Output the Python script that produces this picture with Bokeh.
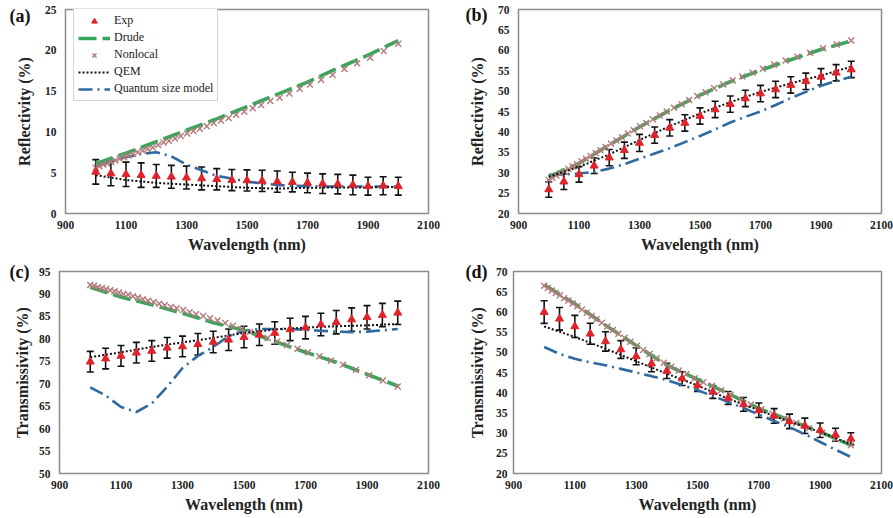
from bokeh.plotting import figure
from bokeh.models import (Range1d, FixedTicker, Whisker, TeeHead, ColumnDataSource,
                          Legend, LegendItem, LinearAxis)
from bokeh.layouts import column, row
from bokeh.embed import file_html
from bokeh.resources import INLINE

# ---------------- data ----------------
WL_EXP = [1000, 1050, 1100, 1150, 1200, 1250, 1300, 1350, 1400, 1450, 1500,
          1550, 1600, 1650, 1700, 1750, 1800, 1850, 1900, 1950, 2000]
WL_MODEL = [1000, 1100, 1200, 1300, 1400, 1500, 1600, 1700, 1800, 1900, 2000]
WL_NL = [1000, 1012, 1025, 1038, 1051, 1065, 1079, 1093, 1108, 1123, 1139, 1155,
         1171, 1188, 1206, 1224, 1242, 1262, 1281, 1302, 1323, 1344, 1367, 1390,
         1414, 1439, 1464, 1491, 1519, 1547, 1577, 1608, 1640, 1674, 1708, 1745,
         1783, 1822, 1864, 1907, 1952, 2000]
X_TICKS = [900, 1100, 1300, 1500, 1700, 1900, 2100]

# (a) reflectivity, panel a
A_EXP = [5.1, 4.9, 4.8, 4.7, 4.6, 4.5, 4.4, 4.3, 4.2, 4.1, 4.05, 4.0, 3.9, 3.85,
         3.75, 3.65, 3.6, 3.5, 3.35, 3.4, 3.35]
A_ERR = [1.5, 1.5, 1.5, 1.5, 1.4, 1.4, 1.4, 1.4, 1.3, 1.3, 1.3, 1.3, 1.3, 1.2,
         1.2, 1.2, 1.2, 1.2, 1.1, 1.1, 1.1]
A_DRUDE = [6.1, 7.4, 8.8, 10.2, 11.6, 13.1, 14.6, 16.1, 17.8, 19.4, 21.2]
A_NL = [5.6, 5.8, 6.0, 6.1, 6.3, 6.5, 6.7, 6.9, 7.1, 7.3, 7.5, 7.7, 7.9, 8.1,
        8.4, 8.7, 8.9, 9.2, 9.5, 9.8, 10.1, 10.4, 10.7, 11.1, 11.4, 11.7, 12.1,
        12.5, 12.9, 13.3, 13.8, 14.2, 14.7, 15.3, 15.8, 16.4, 17.0, 17.7, 18.4,
        19.1, 19.9, 20.8]
A_QEM = [4.7, 4.1, 3.75, 3.55, 3.35, 3.15, 3.05, 3.15, 3.2, 3.2, 3.25]
A_QSM = [5.8, 6.4, 6.9, 7.3, 7.5, 7.0, 6.0, 5.3, 4.6, 4.3, 3.9, 3.7, 3.5, 3.4,
         3.35, 3.3, 3.3, 3.3, 3.3, 3.3, 3.3]
A_YTICKS = [0, 5, 10, 15, 20, 25]

# (b) reflectivity, panel b
B_EXP = [25.9, 27.8, 29.6, 31.7, 33.7, 35.5, 37.3, 39.2, 41.0, 42.2, 43.9, 45.5,
         46.8, 48.2, 49.4, 50.4, 51.5, 52.4, 53.5, 54.5, 55.3]
B_ERR = [1.9, 1.9, 1.9, 1.9, 2.0, 2.0, 2.1, 2.0, 2.0, 2.0, 2.0, 2.0, 2.0, 2.0,
         2.0, 2.0, 2.0, 2.0, 2.0, 2.0, 2.0]
B_DRUDE = [29.0, 32.3, 36.8, 41.2, 45.3, 49.0, 52.3, 55.1, 57.7, 60.2, 62.3]
B_NL = [28.2, 28.7, 29.3, 29.8, 30.3, 30.9, 31.5, 32.1, 32.8, 33.4, 34.1, 34.8,
        35.5, 36.3, 37.1, 37.9, 38.7, 39.6, 40.4, 41.4, 42.2, 43.1, 44.0, 45.0,
        45.9, 46.8, 47.8, 48.8, 49.7, 50.7, 51.6, 52.6, 53.6, 54.5, 55.5, 56.5,
        57.5, 58.4, 59.4, 60.5, 61.4, 62.4]
B_QEM = [29.0, 31.4, 34.5, 38.0, 41.4, 44.5, 47.3, 49.8, 51.9, 53.8, 56.0]
B_QSM = [29.5, 29.6, 29.8, 30.2, 31.0, 32.1, 33.4, 34.7, 36.0, 37.5, 39.0, 40.6,
         42.3, 43.7, 45.0, 46.6, 48.3, 49.8, 51.3, 52.5, 53.5]
B_YTICKS = [20, 25, 30, 35, 40, 45, 50, 55, 60, 65, 70]

# (c) transmissivity, panel c
C_EXP = [74.9, 75.6, 76.2, 76.9, 77.3, 78.0, 78.3, 78.8, 79.3, 79.8, 80.4, 80.9,
         81.3, 82.1, 82.5, 83.2, 83.7, 84.3, 84.8, 85.3, 85.8]
C_ERR = [2.3, 2.3, 2.3, 2.3, 2.3, 2.3, 2.3, 2.4, 2.4, 2.4, 2.4, 2.4, 2.5, 2.5,
         2.5, 2.5, 2.6, 2.6, 2.6, 2.6, 2.6]
C_DRUDE = [91.5, 89.3, 87.6, 85.7, 83.6, 81.9, 79.4, 77.0, 74.8, 72.1, 69.5]
C_NL = [92.0, 91.8, 91.5, 91.3, 91.1, 90.8, 90.6, 90.3, 90.0, 89.8, 89.5, 89.2,
        88.8, 88.5, 88.2, 87.8, 87.5, 87.1, 86.8, 86.4, 85.9, 85.5, 85.1, 84.6,
        84.1, 83.5, 82.9, 82.2, 81.5, 80.9, 80.2, 79.4, 78.6, 77.8, 77.0, 76.1,
        75.2, 74.2, 73.1, 71.9, 70.7, 69.4]
C_QEM = [75.9, 77.0, 78.2, 79.2, 80.2, 81.3, 82.1, 82.5, 82.8, 83.0, 83.3]
C_QSM = [69.2, 67.4, 64.8, 63.7, 65.6, 69.3, 73.5, 76.2, 78.2, 80.6, 81.8, 82.2,
         82.2, 82.2, 82.0, 81.8, 81.6, 81.5, 81.6, 81.9, 82.2]
C_YTICKS = [50, 55, 60, 65, 70, 75, 80, 85, 90, 95]

# (d) transmissivity, panel d
D_EXP = [59.95, 58.3, 56.4, 54.6, 52.7, 50.7, 49.0, 47.2, 45.4, 43.5, 41.8, 40.2,
         38.7, 37.1, 35.65, 34.25, 32.9, 31.8, 30.7, 29.6, 28.6]
D_ERR = [2.8, 2.8, 2.75, 2.6, 2.4, 2.2, 2.1, 2.0, 1.9, 1.7, 1.5, 1.6, 1.6, 1.7,
         1.8, 1.8, 1.8, 1.9, 1.8, 1.6, 1.5]
D_DRUDE = [66.7, 62.0, 56.7, 51.7, 46.8, 43.3, 39.8, 36.1, 33.2, 30.3, 27.0]
D_NL = [66.5, 65.9, 65.3, 64.7, 64.1, 63.4, 62.8, 62.1, 61.4, 60.6, 59.8, 59.0,
        58.2, 57.3, 56.4, 55.5, 54.6, 53.6, 52.6, 51.6, 50.6, 49.6, 48.5, 47.4,
        46.4, 45.5, 44.6, 43.6, 42.6, 41.7, 40.6, 39.5, 38.3, 37.1, 35.9, 34.8,
        33.6, 32.5, 31.2, 30.0, 28.5, 27.0]
D_QEM = [56.4, 53.8, 50.9, 47.8, 44.7, 41.8, 38.5, 35.65, 32.8, 30.3, 27.2]
D_QSM = [51.3, 49.6, 48.4, 47.5, 46.8, 45.9, 45.0, 44.1, 43.1, 41.9, 40.6, 39.2,
         37.7, 36.2, 34.6, 33.0, 31.5, 29.7, 27.8, 25.9, 24.1]
D_YTICKS = [20, 25, 30, 35, 40, 45, 50, 55, 60, 65, 70]

# ---------------- style ----------------
SERIF = "Liberation Serif"
RED = "#e0232b"
GREEN = "#3ba55c"
ROSY = "#b3787a"
BLUE = "#2e6aa0"
BLACK = "#111111"


def style_axis(ax):
    ax.axis_line_color = None
    ax.major_tick_line_color = None
    ax.minor_tick_line_color = None
    ax.major_tick_out = 0
    ax.major_tick_in = 0
    ax.major_label_text_font = SERIF
    ax.major_label_text_font_style = "bold"
    ax.major_label_text_font_size = "11.5px"
    ax.major_label_text_color = "#222222"
    ax.axis_label_text_font = SERIF
    ax.axis_label_text_font_style = "bold"
    ax.axis_label_text_font_size = "16px"
    ax.axis_label_text_color = "#222222"


def make_panel(tag, ylabel, exp, err, drude, nl, qem, qsm, yticks,
               width, height, bl, br, bt, bb, tick_standoff, label_standoff,
               tag_drop_px, tag_standoff, legend=False):
    p = figure(width=width, height=height, output_backend="svg",
               toolbar_location=None, x_range=Range1d(900, 2100),
               y_range=Range1d(yticks[0], yticks[-1]),
               min_border_left=bl, min_border_right=br,
               min_border_top=bt, min_border_bottom=bb)
    p.xgrid.visible = False
    p.ygrid.visible = False
    p.outline_line_color = "#8c8c8c"
    p.outline_line_width = 1.5
    p.background_fill_color = "white"
    p.border_fill_color = "white"
    p.xaxis.ticker = FixedTicker(ticks=X_TICKS)
    p.yaxis.ticker = FixedTicker(ticks=yticks)
    style_axis(p.xaxis[0])
    style_axis(p.yaxis[0])
    p.xaxis.major_label_standoff = 7
    p.xaxis.axis_label_standoff = 4
    p.yaxis.major_label_standoff = tick_standoff
    p.yaxis.axis_label_standoff = label_standoff
    p.xaxis.axis_label = "Wavelength (nm)"
    p.yaxis.axis_label = ylabel

    # panel tag "(a)".. drawn as the single tick label of an outer left axis
    frame_h = height - bt - bb
    tag_pos = round(yticks[-1] - tag_drop_px * (yticks[-1] - yticks[0]) / frame_h, 2)
    tag_axis = LinearAxis(ticker=FixedTicker(ticks=[tag_pos]),
                          major_label_overrides={tag_pos: tag})
    style_axis(tag_axis)
    tag_axis.major_label_text_font_size = "18px"
    tag_axis.major_label_text_color = "#111111"
    tag_axis.major_label_standoff = tag_standoff
    p.add_layout(tag_axis, "left")

    r_qsm = p.line(WL_EXP, qsm, line_color=BLUE, line_width=2.6,
                   line_dash="14 5 2 5")
    r_drude = p.line(WL_MODEL, drude, line_color=GREEN, line_width=3.6,
                     line_dash="18 6")
    r_nl = p.scatter(WL_NL, nl, marker="x", size=8.5, line_color=ROSY,
                     line_width=1.4)
    r_qem = p.line(WL_MODEL, qem, line_color=BLACK, line_width=2,
                   line_dash="2 2")
    src = ColumnDataSource(dict(x=WL_EXP,
                                lo=[v - e for v, e in zip(exp, err)],
                                hi=[v + e for v, e in zip(exp, err)]))
    w = Whisker(source=src, base="x", lower="lo", upper="hi",
                line_color=BLACK, line_width=1.6,
                upper_head=TeeHead(size=7, line_color=BLACK, line_width=1.6),
                lower_head=TeeHead(size=7, line_color=BLACK, line_width=1.6))
    p.add_layout(w)
    r_exp = p.scatter(WL_EXP, exp, marker="triangle", size=8,
                      fill_color=RED, line_color=RED)

    if legend:
        items = [LegendItem(label="Exp", renderers=[r_exp]),
                 LegendItem(label="Drude", renderers=[r_drude]),
                 LegendItem(label="Nonlocal", renderers=[r_nl]),
                 LegendItem(label="QEM", renderers=[r_qem]),
                 LegendItem(label="Quantum size model", renderers=[r_qsm])]
        lg = Legend(items=items, location=(8, 112), margin=0, padding=4,
                    spacing=2, glyph_width=32, glyph_height=14,
                    label_height=14, label_standoff=4,
                    label_text_font=SERIF, label_text_font_size="12px",
                    label_text_color="#222222",
                    border_line_color="#aaaaaa", border_line_width=1,
                    background_fill_color="white", background_fill_alpha=1)
        p.add_layout(lg)
    return p


pa = make_panel("(a)", "Reflectivity (%)", A_EXP, A_ERR, A_DRUDE, A_NL, A_QEM,
                A_QSM, A_YTICKS, 448, 258, 65, 20, 9, 45, 9, 9, 6, -18,
                legend=True)
pb = make_panel("(b)", "Reflectivity (%)", B_EXP, B_ERR, B_DRUDE, B_NL, B_QEM,
                B_QSM, B_YTICKS, 445, 258, 70, 12, 9, 45, 9, 9, 6, -22)
pc = make_panel("(c)", "Transmissivity (%)", C_EXP, C_ERR, C_DRUDE, C_NL, C_QEM,
                C_QSM, C_YTICKS, 448, 260, 59, 20, 13, 45, 9, 5, 0, -19)
pd = make_panel("(d)", "Transmissivity (%)", D_EXP, D_ERR, D_DRUDE, D_NL, D_QEM,
                D_QSM, D_YTICKS, 445, 260, 65, 12, 13, 45, 6, 7, 0, -22)

layout = column(row(pa, pb), row(pc, pd))

with open("out.html", "w") as f:
    f.write(file_html(layout, INLINE))
